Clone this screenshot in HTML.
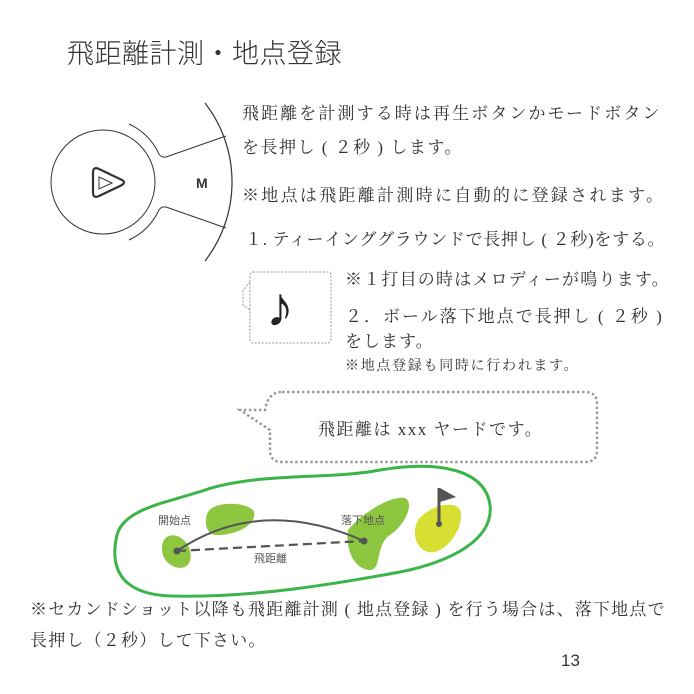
<!DOCTYPE html><html><head><meta charset="utf-8"><style>
body{margin:0;width:694px;height:694px;background:#fff;position:relative;overflow:hidden;font-family:"Liberation Serif","Noto Serif CJK SC",serif;color:#333}
.t{position:absolute;white-space:nowrap;font-size:17px;line-height:1}
</style></head><body>
<div class="t" style="left:67px;top:41px;font-size:27px;letter-spacing:0.5px;font-family:'Liberation Sans','Noto Sans CJK JP',sans-serif;font-weight:300;color:#333">飛距離計測・地点登録</div>
<svg width="694" height="694" style="position:absolute;left:0;top:0">
<circle cx="103" cy="182" r="52" fill="none" stroke="#333" stroke-width="1"/>
<path d="M205 103 A129 129 0 0 1 205 261" fill="none" stroke="#333" stroke-width="1.2"/>
<path d="M129 124 A62 62 0 0 1 158 152" fill="none" stroke="#333"/>
<path d="M158 212 A62 62 0 0 1 129 240" fill="none" stroke="#333"/>
<path d="M158 152 Q160 158 166 157 L226 136" fill="none" stroke="#333"/>
<path d="M158 212 Q160 206 166 207 L226 228" fill="none" stroke="#333"/>
<path d="M93 173 Q93 166 99 169 L122 180 Q126 182 122 185 L99 196 Q93 199 93 192 Z" fill="none" stroke="#333" stroke-width="2.2"/>
<path d="M99 177 L112 183 L99 189 Z" fill="none" stroke="#333" stroke-width="1"/>
<rect x="250" y="272" width="81" height="71" rx="3" fill="none" stroke="#999" stroke-dasharray="2 1.5"/>
<path d="M250 282 L243 290 L243 305 L250 310" fill="none" stroke="#999" stroke-dasharray="2 1.5"/>
<path d="M282 392 L585 392 Q597 392 597 404 L597 450 Q597 462 585 462 L282 462 Q270 462 270 450 L270 430 L240 410 L265 410 Q268 392 282 392 Z" fill="none" stroke="#999" stroke-width="2.5" stroke-dasharray="2.5 2.5"/>
<path d="M205 490 C260 472 330 480 380 470 C440 460 485 470 490 505 C494 540 450 562 400 572 C330 585 250 598 170 596 C118 594 110 565 117 535 C124 508 170 502 205 490 Z" fill="none" stroke="#3bb44a" stroke-width="3"/>
<path d="M208 512 C215 500 250 502 254 512 C257 525 235 536 215 535 C205 533 204 520 208 512 Z" fill="#8dc63f"/>
<path d="M163 542 C168 530 185 535 190 550 C193 565 185 570 175 567 C163 563 160 550 163 542 Z" fill="#8dc63f"/>
<path d="M348 530 C360 515 390 495 405 498 C415 503 405 525 390 535 C375 545 382 570 370 570 C355 570 345 550 348 530 Z" fill="#8dc63f"/>
<path d="M418 520 C430 505 455 500 460 510 C465 525 450 548 435 552 C418 555 410 535 418 520 Z" fill="#d7df33"/>
<line x1="439" y1="488" x2="439" y2="524" stroke="#555" stroke-width="3"/>
<path d="M440 488 L456 497 L440 502 Z" fill="#555"/>
<circle cx="439" cy="524" r="3" fill="#555"/>
<path d="M177 551 Q260 495 364 541" fill="none" stroke="#555" stroke-width="2"/>
<line x1="177" y1="551" x2="364" y2="541" stroke="#555" stroke-width="2.2" stroke-dasharray="9 5"/>
<circle cx="177" cy="551" r="3.5" fill="#555"/>
<circle cx="364" cy="541" r="3.5" fill="#555"/>
</svg>
<div class="t" style="left:196px;top:176px;font-size:14px;font-weight:bold;font-family:'Liberation Sans',sans-serif">M</div>
<div class="t" style="left:242px;top:105px;letter-spacing:2.1px">飛距離を計測する時は再生ボタンかモードボタン</div>
<div class="t" style="left:242px;top:139px;letter-spacing:1.5px">を長押し ( ２秒 ) します。</div>
<div class="t" style="left:242px;top:187px;letter-spacing:2.3px">※地点は飛距離計測時に自動的に登録されます。</div>
<div class="t" style="left:245px;top:231px;letter-spacing:0.7px">１. ティーインググラウンドで長押し ( ２秒)をする。</div>
<div class="t" style="left:266px;top:280px;font-size:56px;color:#222">♪</div>
<div class="t" style="left:345px;top:271px;letter-spacing:1.2px">※１打目の時はメロディーが鳴ります。</div>
<div class="t" style="left:345px;top:308px;letter-spacing:2px">２．ボール落下地点で長押し ( ２秒 )</div>
<div class="t" style="left:345px;top:333px;letter-spacing:1px">をします。</div>
<div class="t" style="left:345px;top:360px;font-size:14px;letter-spacing:1.7px">※地点登録も同時に行われます。</div>
<div class="t" style="left:318px;top:421px;letter-spacing:1.5px">飛距離は xxx ヤードです。</div>
<div class="t" style="left:158px;top:516px;font-size:11px;font-family:'Liberation Sans','Noto Sans CJK JP',sans-serif;color:#555">開始点</div>
<div class="t" style="left:341px;top:516px;font-size:11px;font-family:'Liberation Sans','Noto Sans CJK JP',sans-serif;color:#555">落下地点</div>
<div class="t" style="left:254px;top:554px;font-size:11px;font-family:'Liberation Sans','Noto Sans CJK JP',sans-serif;color:#555">飛距離</div>
<div class="t" style="left:30px;top:601px;letter-spacing:1.2px">※セカンドショット以降も飛距離計測 ( 地点登録 ) を行う場合は、落下地点で</div>
<div class="t" style="left:30px;top:632px;letter-spacing:1.2px">長押し（２秒）して下さい。</div>
<div class="t" style="left:561px;top:652px;font-size:17px;font-family:'Liberation Sans',sans-serif">13</div>
</body></html>
